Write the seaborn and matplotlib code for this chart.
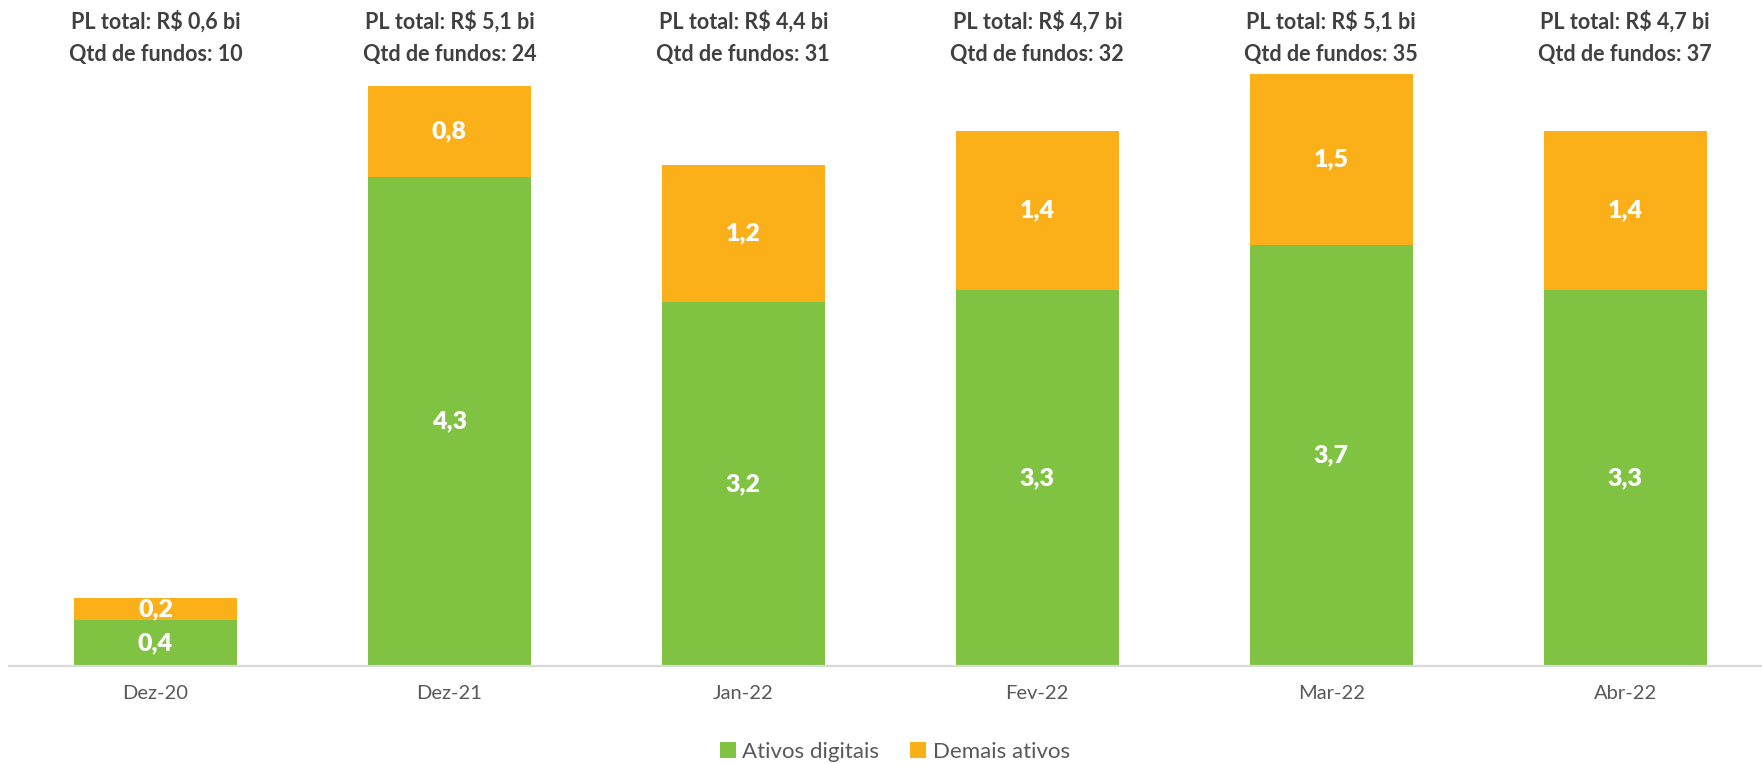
import matplotlib
matplotlib.use("Agg")
import matplotlib.pyplot as plt
from matplotlib.patches import Patch
import seaborn as sns
import pandas as pd

months = ["Dez-20", "Dez-21", "Jan-22", "Fev-22", "Mar-22", "Abr-22"]
ativos_digitais = [0.4, 4.3, 3.2, 3.3, 3.7, 3.3]
demais_ativos = [0.2, 0.8, 1.2, 1.4, 1.5, 1.4]
pl_total = ["0,6", "5,1", "4,4", "4,7", "5,1", "4,7"]
qtd_fundos = [10, 24, 31, 32, 35, 37]

green = "#80C342"
orange = "#FBAF18"
dark = "#404040"

df = pd.DataFrame({"mes": months, "digitais": ativos_digitais, "demais": demais_ativos})
df["total"] = df["digitais"] + df["demais"]

sns.set_theme(style="white")
plt.rcParams["font.family"] = ["Lato", "DejaVu Sans"]

fig = plt.figure(figsize=(17.62, 7.64), dpi=100)
ax = fig.add_axes([8.6 / 1762, 1 - 666 / 764, 1 - 8.6 / 1762, 666 / 764])

# orange = full stack, green drawn over it
sns.barplot(data=df, x="mes", y="total", color=orange, width=0.555, ax=ax,
            saturation=1, edgecolor="none")
sns.barplot(data=df, x="mes", y="digitais", color=green, width=0.555, ax=ax,
            saturation=1, edgecolor="none")

px_per_unit = 113.8
ax.set_xlim(-0.5, (1762 - 155.6) / 293.9)
ax.set_ylim(0, 666 / px_per_unit)

for i, row in df.iterrows():
    ax.text(i, row["digitais"] / 2, f"{row['digitais']:.1f}".replace(".", ","),
            ha="center", va="center", color="white", fontsize=18, fontweight="heavy")
    ax.text(i, row["digitais"] + row["demais"] / 2, f"{row['demais']:.1f}".replace(".", ","),
            ha="center", va="center", color="white", fontsize=18, fontweight="heavy")
    ax.text(i, (666 - 22) / px_per_unit, f"PL total: R$ {pl_total[i]} bi",
            ha="center", va="center", color=dark, fontsize=15.5, fontweight="bold")
    ax.text(i, (666 - 55) / px_per_unit, f"Qtd de fundos: {qtd_fundos[i]}",
            ha="center", va="center", color=dark, fontsize=15.5, fontweight="bold")

ax.set_xlabel("")
ax.set_ylabel("")
ax.set_yticks([])
ax.tick_params(axis="x", length=0, pad=14, labelsize=14.5, labelcolor="#595959")
for side in ["top", "left", "right"]:
    ax.spines[side].set_visible(False)
ax.spines["bottom"].set_color("#D9D9D9")
ax.spines["bottom"].set_linewidth(1.6)

handles = [Patch(facecolor=green, edgecolor="none", label="Ativos digitais"),
           Patch(facecolor=orange, edgecolor="none", label="Demais ativos")]
leg = fig.legend(handles=handles, loc="center", bbox_to_anchor=(895 / 1762, 1 - 752 / 764),
                 ncol=2, frameon=False, fontsize=16, handlelength=0.7, handleheight=0.7,
                 handletextpad=0.3, columnspacing=1.4)
for t in leg.get_texts():
    t.set_color("#595959")

fig.savefig("out.png", dpi=100)
